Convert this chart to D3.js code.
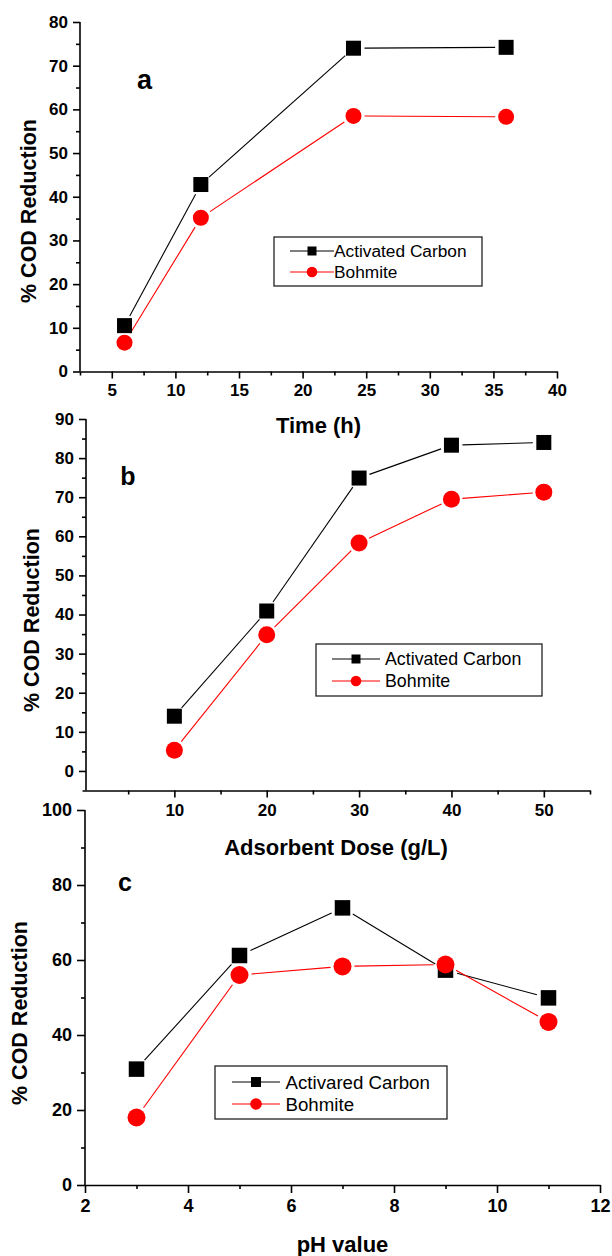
<!DOCTYPE html>
<html><head><meta charset="utf-8">
<script src="https://cdn.jsdelivr.net/npm/d3@7"></script>
<style>
html,body{margin:0;padding:0;background:#fff;}
svg{display:block;font-family:"Liberation Sans",Arial,sans-serif;}
</style></head>
<body>
<svg id="chart" width="612" height="1256"></svg>
<script>
// ---- Data ----
const timeX = [6, 12, 24, 36];
const timeAC = [10.5, 42.8, 74.0, 74.2];
const timeBo = [6.6, 35.2, 58.5, 58.3];
const timeTicks = [5, 10, 15, 20, 25, 30, 35, 40];

const doseX = [10, 20, 30, 40, 50];
const doseAC = [14.0, 40.9, 74.9, 83.3, 84.0];
const doseBo = [5.3, 34.8, 58.3, 69.5, 71.3];
const doseTicks = [10, 20, 30, 40, 50];

const phX = [3, 5, 7, 9, 11];
const phAC = [30.9, 61.2, 73.9, 57.3, 49.9];
const phBo = [18.0, 56.0, 58.3, 58.8, 43.5];
const phTicks = [2, 4, 6, 8, 10, 12];

const yTicksA = [0, 10, 20, 30, 40, 50, 60, 70, 80];
const yTicksB = [0, 10, 20, 30, 40, 50, 60, 70, 80, 90];
const yTicksC = [0, 20, 40, 60, 80, 100];

const legendA = ["Activated Carbon", "Bohmite"];
const legendB = ["Activated Carbon", "Bohmite"];
const legendC = ["Activared Carbon", "Bohmite"];

const yTitle = "% COD Reduction";

// ---- Drawing ----
const svg = d3.select("#chart");

function drawPanel(p) {
  const g = svg.append("g");
  const x = d3.scaleLinear().domain(p.xDomain).range(p.xRange);
  const y = d3.scaleLinear().domain(p.yDomain).range(p.yRange);
  const axisY = p.yAxisX;
  const fs = p.tickFont;

  // x axis
  const xa = g.append("g").attr("transform", `translate(0,${p.yRange[0]})`);
  xa.call(d3.axisBottom(x).tickValues(p.xMinor).tickSize(p.minorLen).tickFormat(""))
  xa.call(g2 => g2.select(".domain").remove());
  const xb = g.append("g").attr("transform", `translate(0,${p.yRange[0]})`);
  xb.call(d3.axisBottom(x).tickValues(p.xTicks).tickSize(p.majorLen).tickSizeOuter(0).tickPadding(p.xPad));
  xb.attr("font-size", fs).attr("font-family", "Liberation Sans, Arial, sans-serif");
  xb.selectAll("text").attr("font-size", fs).attr("font-weight", "bold").attr("fill", "#000");

  // y axis
  const ya = g.append("g").attr("transform", `translate(${axisY},0)`);
  ya.call(d3.axisLeft(y).tickValues(p.yMinor).tickSize(p.minorLen).tickFormat(""));
  ya.select(".domain").remove();
  const yb = g.append("g").attr("transform", `translate(${axisY},0)`);
  yb.call(d3.axisLeft(y).tickValues(p.yTicks).tickSize(p.majorLen).tickSizeOuter(0).tickPadding(5));
  yb.attr("font-size", fs).attr("font-family", "Liberation Sans, Arial, sans-serif");
  yb.selectAll("text").attr("font-size", fs).attr("font-weight", "bold").attr("fill", "#000");
  g.selectAll(".domain, .tick line").attr("stroke", "#000").attr("stroke-width", 1.6);
  yb.select(".domain").attr("d", `M0,${p.yRange[0]}V${p.yRange[1]}`);

  // x title
  g.append("text").attr("x", (p.xRange[0] + p.xRange[1]) / 2).attr("y", p.xTitleY)
    .attr("text-anchor", "middle").attr("font-size", 22).attr("font-weight", "bold").text(p.xTitle);
  // y title
  g.append("text").attr("transform", `translate(${p.yTitleX},${p.yTitleCy}) rotate(-90)`)
    .attr("text-anchor", "middle").attr("font-size", 21.5).attr("font-weight", "bold").text(yTitle);
  // panel letter
  g.append("text").attr("x", p.letter[0]).attr("y", p.letter[1]).attr("text-anchor", "middle")
    .attr("font-size", p.letter[3]).attr("font-weight", "bold").text(p.letter[2]);

  // series
  const series = [
    { vals: p.ac, color: "#000", shape: "square" },
    { vals: p.bo, color: "#ff0000", shape: "circle" }
  ];
  series.forEach(s => {
    const pts = p.xs.map((xv, i) => [x(xv), y(s.vals[i])]);
    for (let i = 0; i < pts.length - 1; i++) {
      const [x1, y1] = pts[i], [x2, y2] = pts[i + 1];
      const dx = x2 - x1, dy = y2 - y1, L = Math.hypot(dx, dy);
      const gap = p.gap;
      if (L <= 2 * gap) continue;
      g.append("line")
        .attr("x1", x1 + dx / L * gap).attr("y1", y1 + dy / L * gap)
        .attr("x2", x2 - dx / L * gap).attr("y2", y2 - dy / L * gap)
        .attr("stroke", s.color).attr("stroke-width", 1.1);
    }
  });
  series.forEach(s => {
    const pts = p.xs.map((xv, i) => [x(xv), y(s.vals[i])]);
    pts.forEach(([px, py]) => {
      if (s.shape === "square") {
        g.append("rect").attr("x", px - p.sq / 2).attr("y", py - p.sq / 2)
          .attr("width", p.sq).attr("height", p.sq).attr("fill", s.color);
      } else {
        g.append("circle").attr("cx", px).attr("cy", py).attr("r", p.cr).attr("fill", s.color);
      }
    });
  });

  // legend
  const L = p.legend;
  g.append("rect").attr("x", L.box[0]).attr("y", L.box[1])
    .attr("width", L.box[2] - L.box[0]).attr("height", L.box[3] - L.box[1])
    .attr("fill", "#fff").attr("stroke", "#222").attr("stroke-width", 1.3);
  series.forEach((s, i) => {
    const ry = L.rows[i];
    g.append("line").attr("x1", L.line[0]).attr("x2", L.line[1]).attr("y1", ry).attr("y2", ry)
      .attr("stroke", s.color).attr("stroke-width", 1.1);
    if (s.shape === "square") {
      g.append("rect").attr("x", L.mx - L.ms / 2).attr("y", ry - L.ms / 2)
        .attr("width", L.ms).attr("height", L.ms).attr("fill", s.color);
    } else {
      g.append("circle").attr("cx", L.mx).attr("cy", ry).attr("r", L.ms / 2 + 0.8).attr("fill", s.color);
    }
    g.append("text").attr("x", L.tx).attr("y", ry + L.fs * 0.36).attr("font-size", L.fs)
      .attr("fill", "#000").text(p.legendText[i]);
  });
}

drawPanel({
  xDomain: [2.5, 40], xRange: [80, 557], yDomain: [0, 80], yRange: [371.5, 22], yAxisX: 80,
  xTicks: timeTicks, xMinor: [2.5, 7.5, 12.5, 17.5, 22.5, 27.5, 32.5, 37.5],
  yTicks: yTicksA, yMinor: [5, 15, 25, 35, 45, 55, 65, 75],
  majorLen: 7, minorLen: 4, xPad: 5, tickFont: 17,
  xTitle: "Time (h)", xTitleY: 433, yTitleX: 36, yTitleCy: 211,
  letter: [144.5, 89, "a", 27],
  xs: timeX, ac: timeAC, bo: timeBo, gap: 11, sq: 15, cr: 8,
  legend: { box: [274, 237, 482, 286], rows: [251, 272], line: [290, 334], mx: 312, ms: 9, tx: 334, fs: 17.3 },
  legendText: legendA
});

drawPanel({
  xDomain: [0, 55], xRange: [82, 590], yDomain: [-5, 90], yRange: [790.5, 419], yAxisX: 86,
  xTicks: doseTicks, xMinor: [5, 15, 25, 35, 45, 55],
  yTicks: yTicksB, yMinor: [5, 15, 25, 35, 45, 55, 65, 75, 85],
  majorLen: 7, minorLen: 4, xPad: 6, tickFont: 17,
  xTitle: "Adsorbent Dose (g/L)", xTitleY: 855, yTitleX: 38.5, yTitleCy: 620,
  letter: [128, 485, "b", 25],
  xs: doseX, ac: doseAC, bo: doseBo, gap: 11, sq: 15, cr: 8.5,
  legend: { box: [316, 644, 542, 696], rows: [659, 681], line: [332, 380], mx: 356, ms: 9, tx: 385, fs: 17.8 },
  legendText: legendB
});

drawPanel({
  xDomain: [2, 12], xRange: [85, 600], yDomain: [0, 100], yRange: [1185, 810], yAxisX: 85,
  xTicks: phTicks, xMinor: [3, 5, 7, 9, 11],
  yTicks: yTicksC, yMinor: [10, 30, 50, 70, 90],
  majorLen: 8, minorLen: 4, xPad: 6, tickFont: 18,
  xTitle: "pH value", xTitleY: 1252, yTitleX: 27, yTitleCy: 1013,
  letter: [125, 891, "c", 25],
  xs: phX, ac: phAC, bo: phBo, gap: 12, sq: 15.5, cr: 9,
  legend: { box: [215, 1066, 447, 1119], rows: [1082, 1104], line: [232, 280], mx: 256, ms: 10, tx: 285.5, fs: 18.7 },
  legendText: legendC
});
</script>
</body></html>
